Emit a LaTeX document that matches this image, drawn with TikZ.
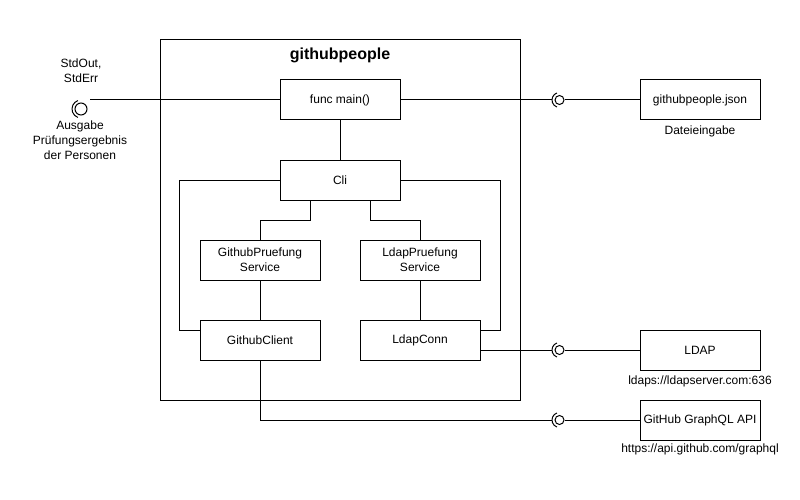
\documentclass[tikz,border=0pt]{standalone}
\usepackage{fontspec}
\setmainfont{Liberation Sans}
\usetikzlibrary{positioning}

\begin{document}
\begin{tikzpicture}[x=1pt, y=-1pt, line width=1pt,
	line cap=butt, line join=miter,
	font=\fontsize{12}{15}\selectfont,
	comp/.style={draw, minimum width=120, minimum height=40, inner sep=0pt, align=center},
	system/.style={draw, minimum width=360, minimum height=360, inner sep=0pt},
	ball/.style={draw, circle, minimum size=9, inner sep=0pt},
	caption/.style={align=center, inner sep=0pt}]
	
	\useasboundingbox (0,0) rectangle (800,500);
	
	% application
	\node [system] (app) at (340,220) {};
	\node [caption, font=\bfseries\fontsize{16}{19}\selectfont] (apptitle) at (340,55) {githubpeople};
	
	\node [comp] (main) at (340,100) {func main()};
	\node [comp] (cli) at (340,180) {Cli};
	\node [comp] (ghps) at (260,260) {GithubPruefung\\Service};
	\node [comp] (ldps) at (420,260) {LdapPruefung\\Service};
	\node [comp] (ghcl) at (260,340) {GithubClient};
	\node [comp] (ldcn) at (420,340) {LdapConn};
	
	% outside
	\node [comp] (json) at (700,100) {githubpeople.json};
	\node [comp] (ldap) at (700,350) {LDAP};
	\node [comp] (gql) at (700,420) {GitHub GraphQL API};
	
	\node [caption] (jsonlbl) at (700,131) {Dateieingabe};
	\node [caption] (ldaplbl) at (700,381) {ldaps://ldapserver.com:636};
	\node [caption] (gqllbl) at (700,449) {https://api.github.com/graphql};
	
	\node [caption] (stdlbl) at (81,71) {StdOut,\\StdErr};
	\node [caption] (outlbl) at (80,140) {Ausgabe\\Prüfungsergebnis\\der Personen};
	
	% interfaces
	\node [ball, minimum size=12] (s0) at (81,109) {};
	\node [ball] (s1) at (559.5,100) {};
	\node [ball] (s2) at (559.5,350) {};
	\node [ball] (s3) at (559.5,420) {};
	
	\draw ([shift={(110:9pt)}]s0.center) arc [start angle=110, end angle=250, radius=9pt];
	\foreach \s in {s1,s2,s3}
	\draw ([shift={(110:7.5pt)}]\s.center) arc [start angle=110, end angle=250, radius=7.5pt];
	
	\coordinate (outp) at (90,100);
	
	% wiring
	\draw (main.west) -- (outp);
	\draw (main.east) -- ([xshift=-7.5pt]s1.center);
	\draw (s1.east) -- (json.west);
	
	\draw (main.south) -- (cli.north);
	\draw ([xshift=-30pt]cli.south) -- ++(0,20) -| (ghps.north);
	\draw ([xshift=30pt]cli.south) -- ++(0,20) -| (ldps.north);
	\draw (cli.west) -- ++(-100,0) |- ([yshift=10pt]ghcl.west);
	\draw (cli.east) -- ++(100,0) |- ([yshift=10pt]ldcn.east);
	
	\draw (ghps.south) -- (ghcl.north);
	\draw (ldps.south) -- (ldcn.north);
	
	\draw ([yshift=-10pt]ldcn.east) -- ([xshift=-7.5pt]s2.center);
	\draw (s2.east) -- (ldap.west);
	\draw (ghcl.south) |- ([xshift=-7.5pt]s3.center);
	\draw (s3.east) -- (gql.west);
	
\end{tikzpicture}
\end{document}
